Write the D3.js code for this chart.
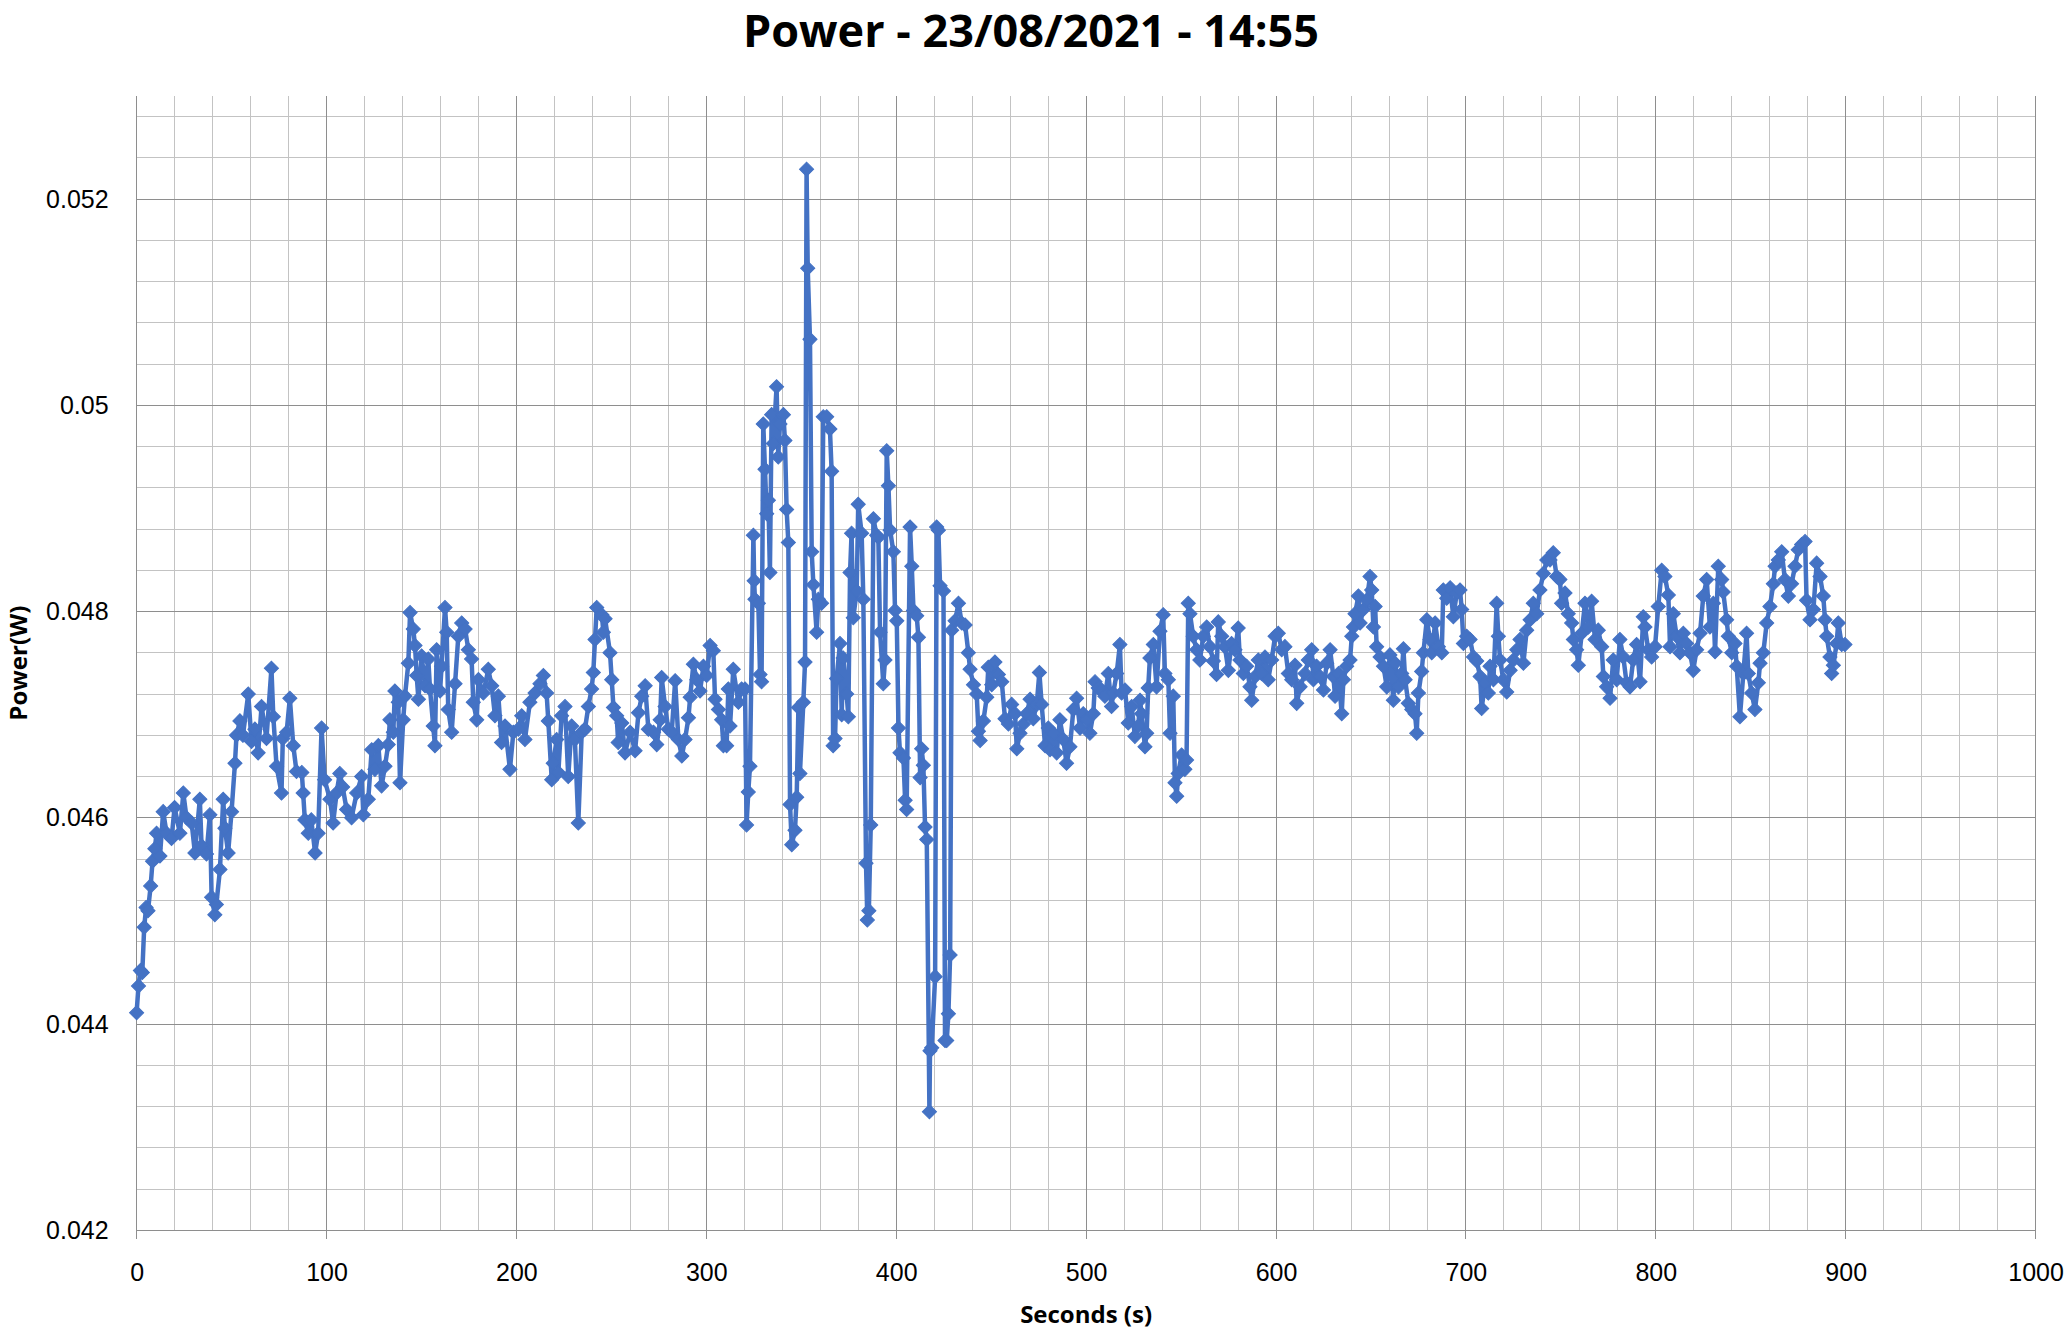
<!DOCTYPE html>
<meta charset="utf-8">
<style>
 body { margin: 0; background: #fff; }
 svg { font-family: "Open Sans", "Noto Sans", sans-serif; background: #fff; }
 .minor line { stroke: #c3c3c3; stroke-width: 1px; shape-rendering: crispEdges; }
 .major line { stroke: #8e8e8e; stroke-width: 1px; shape-rendering: crispEdges; }
 .axis path { display: none; }
 .axis line { stroke: #8e8e8e; shape-rendering: crispEdges; }
 .axis text { fill: #000; font-size: 25px; }
</style>
<body>
<svg width="2069" height="1335"></svg>
</body>
<script src="https://cdn.jsdelivr.net/npm/d3@7"></script>
<script>

 // sample times (s)
 var seconds = [
  0, 1, 2, 3, 4, 5, 6, 7.4, 8.4, 9.6,
  10.5, 12.3, 14, 15.8, 18.4, 20, 22.8, 24.6, 26.3, 29,
  30.7, 33.3, 34.2, 36.8, 38.6, 39.5, 41.2, 42, 43.9, 45.6,
  46.5, 48.2, 50, 51.8, 52.6, 54.4, 56, 58.8, 60.5, 62.3,
  64, 65.8, 68.4, 71, 72, 73.7, 76.3, 77, 79, 80.7,
  82.5, 84.2, 87, 87.7, 88.6, 90.4, 92, 94, 95.6, 97.4,
  99, 101.8, 103.5, 105.3, 107, 108.5,
  110.6, 113.2, 115.9, 118.5, 119.4, 122, 123.8, 125.5, 127.3, 129,
  130.8, 132.5, 133.4, 135.2, 136, 137.8, 138.7, 140.4, 141.3, 143.1,
  144, 145.7, 146.6, 147.5, 148.4, 150.1, 151.9, 153.6, 154.5, 156.2,
  157.1, 158, 159.8, 160.6, 162.4, 163.3, 164.1, 165.9, 167.7, 169.4,
  171.2, 173, 174.7, 176.4, 177.3, 179.1, 180, 182.6, 185.2, 187,
  188.7, 190.5, 192.2, 194, 196.6, 198.4, 201, 202.8, 204.5, 207.1,
  209.8, 212.4, 214.2, 215.9, 216.8, 218.6, 219.4, 221.2, 222.1, 223.8,
  225.6, 227.3, 229.1, 230.8, 232.6, 234.4, 236.1, 237.9, 239.6, 240.5,
  241.4, 242.3,
  245, 245.8, 246.7, 249.3, 250.2, 251.1, 252.8, 253.6, 255.5, 257.2,
  259.9, 262.5, 264.3, 266, 267.8, 269.5, 272.2, 273.9, 275.7, 276.5,
  278.3, 280, 281.8, 283.6, 285.3, 287.1, 288.8, 290.6, 291.5, 293.2,
  295, 296.7, 298.5, 300.2, 302, 303.7, 304.6, 306.4, 308.1, 309,
  310.7, 311.6, 312.5, 314.2, 316.9, 318.6, 320.4, 321.2, 322.1, 323,
  324.8, 325.2, 325.6, 327.4, 328.3, 329.1, 330, 330.9, 331.8, 332.7,
  333.5, 334.4, 335.3, 337, 337.9, 338.8, 340.6, 341.4, 342.3, 343.2,
  344.1, 345, 346.7, 347.6, 348.5, 349.3, 351.1, 352, 352.8, 353.4,
  354.6, 355.5, 356.4, 358.1, 359, 360.7, 361.6, 363.4, 365.1, 366,
  366.8, 367.8, 368.6, 370.4, 371.3, 372.1, 373.9, 374.8, 375.7, 376.5,
  377.4, 379.2, 380, 381.8, 382.7, 384.1, 384.8, 385.6, 386.6, 388,
  389.7, 390.6, 391.5, 393.2, 394.1, 395, 395.9, 396.8, 398.5, 399.4,
  400.3, 401.2, 402, 403.8, 404.7, 405.5, 407.3, 408.2, 409.1, 410.8,
  411.7, 412.6, 413.4, 414.3, 415.2, 416.1, 417.5, 417.8, 418.7, 420.5,
  421.3, 422.2, 423.1, 424.9, 425.7, 426.6, 427.5, 428.4, 429.2, 431,
  432.8, 434.5, 436.3, 438, 438.9, 440.7, 442.4, 443.3, 444.2, 445.9,
  447.7, 448.5, 450.3, 452, 453.8, 455.6, 457.3, 459.1, 460.8, 462.6,
  463.5, 465.2, 467, 468.7, 470.5, 472.2, 474, 475.4, 476.6, 478.4,
  480.1,
  481, 482.7, 484.5, 486.2, 488, 489.7, 491.5, 493.3, 495, 496.8,
  498.5, 500.3, 502, 503.8, 504.7, 506.4, 508.2, 509.9, 511.7, 513.4,
  514.3, 516.1, 517.8, 518.7, 520.5, 522.2, 524, 525.7, 527.5, 528.4,
  529.2, 531, 531.9, 532.7, 533.6, 535.4, 537.1, 538.9, 540.6, 541.5,
  543.3, 544.2, 545.9, 546.8, 547.7, 548.5, 550.3, 552, 552.9, 553.8,
  554.7, 556.4, 558.2, 559.9, 561.7, 563.5, 565.2, 567, 568.7, 569.6,
  571.4, 573.1, 574.9, 576.6, 578.4, 580.1, 581, 582.8, 584.5, 586.3,
  587.2, 589, 590.7, 592.4, 594.2, 595.9, 597.7, 599.5, 601.2, 603,
  604.7, 606.5,
  608.3, 610, 610.9, 612.7, 615.3, 617, 618.8, 619.7, 621.4, 623.2,
  625, 626.7, 628.5, 630.2, 631.1, 632.9, 634.6, 635.5, 637.2, 639,
  639.9, 640.8, 641.6, 643.4, 644.3, 646, 647.8, 649.5, 650.4, 651.3,
  652.2, 653, 654.8, 656.6, 658.3, 660, 661.8, 662.7, 664.5, 666.2,
  667.1, 668, 669.7, 671.5, 673.2, 674.1, 675, 676.7, 677.6, 679.4,
  681.1, 682, 683.8, 685.5, 687.3, 688.1, 689.9, 691.7, 693.4, 695.2,
  696.9, 697.8, 698.7, 700.4, 702.2, 704, 705.7, 707.5, 708.3, 710.1,
  711.8, 712.7, 714.5, 716.2, 717.1, 718, 719.7, 721.5, 723.3, 725,
  726.8, 728.5, 730.3, 732, 733.8, 735.5, 737.3, 739, 740.8, 742.6,
  744.3, 746, 747.8, 749.5, 750.4, 752.2, 753.9, 755.7, 756.6, 758.3,
  759.2, 761, 762.7, 764.5, 766.2, 768, 769.7, 771.5, 772.4, 774.1,
  775.9, 777.6, 779.4, 781.1, 782.9, 784.6, 786.4, 788.1, 789.9, 791.7,
  793.4, 794.3, 796, 797.8, 799.6, 801.3, 803.1, 804.8, 806.6, 807.5,
  809.2, 811, 812.7, 814.5, 816.2, 818, 819.7, 821.5, 823.3, 825,
  826.8, 828.5, 830.3, 831.2, 832.9, 834.7, 835.5, 837.3, 838.2, 840,
  841.7, 842.6, 844.3, 846.1, 847.8, 848.7, 850.5, 852.2, 854, 854.9,
  856.6, 858.4, 860.1, 861.9, 862.8, 864.5, 866.3, 868, 869.8, 871.5,
  873.3, 875, 876.8, 878.6, 879.4, 881.2, 883, 884.7, 886.5, 888.2,
  889.1, 890, 891.7, 892.6, 893.5, 895.2, 896.1, 897.9, 899.6
 ];

 // power in mW, same order as seconds
 var powerMW = [
  44.11, 44.37, 44.52, 44.5, 44.94, 45.13, 45.1, 45.34, 45.58, 45.7,
  45.85, 45.63, 46.06, 45.85, 45.8, 46.1, 45.85, 46.24, 46.0, 45.95,
  45.66, 46.18, 45.73, 45.65, 46.03, 45.23, 45.06, 45.16, 45.5, 46.18,
  45.9, 45.66, 46.06, 46.53, 46.8, 46.94, 46.8, 47.2, 46.74, 46.86,
  46.63, 47.08, 46.77, 47.45, 46.98, 46.5, 46.24, 46.77, 46.83, 47.16,
  46.7, 46.45, 46.44, 46.24, 45.98, 45.85, 45.98, 45.66, 45.85, 46.87,
  46.37, 46.18, 45.95, 46.24, 46.43, 46.3,
  46.08, 46.0, 46.24, 46.4, 46.03, 46.18, 46.66, 46.47, 46.7, 46.31,
  46.5, 46.71, 46.95, 46.83, 47.23, 47.12, 46.34, 46.95, 47.18, 47.5,
  47.99, 47.83, 47.67, 47.38, 47.15, 47.57, 47.28, 47.54, 47.25, 46.89,
  46.7, 47.63, 47.23, 47.47, 48.04, 47.8, 47.05, 46.83, 47.3, 47.76,
  47.89, 47.83, 47.63, 47.54, 47.12, 46.95, 47.34, 47.21, 47.44, 47.28,
  46.99, 47.18, 46.73, 46.89, 46.47, 46.83, 46.86, 46.99, 46.76, 47.12,
  47.21, 47.3, 47.38, 47.21, 46.94, 46.37, 46.53, 46.76, 46.44, 46.99,
  47.08, 46.4, 46.89, 46.76, 45.95, 46.83, 46.86, 47.08, 47.25, 47.41,
  47.73, 48.04,
  47.97, 47.8, 47.93, 47.6, 47.34, 47.07, 46.99, 46.73, 46.92, 46.63,
  46.83, 46.65, 47.02, 47.18, 47.28, 46.86, 46.83, 46.71, 46.95, 47.36,
  47.08, 46.86, 46.83, 47.33, 46.76, 46.6, 46.76, 46.97, 47.17, 47.49,
  47.34, 47.23, 47.47, 47.38, 47.67, 47.62, 47.15, 47.05, 46.95, 46.7,
  46.7, 47.25, 46.89, 47.44, 47.12, 47.25, 47.25, 45.93, 46.25, 46.5,
  48.74, 48.3, 48.12, 48.08, 47.39, 47.32, 49.82, 49.38, 48.95, 49.08,
  48.38, 49.91, 49.63, 50.18, 49.5, 49.82, 49.91, 49.66, 48.99, 48.67,
  46.13, 45.74, 45.88, 46.2, 47.07, 46.43, 47.12, 47.51, 52.29, 51.33,
  50.64, 48.58, 48.26, 47.8, 48.12, 48.08, 49.89, 49.89, 49.77, 49.36,
  46.7, 46.77, 47.35, 47.69, 47.0, 47.55, 47.2, 46.98, 48.38, 48.76,
  47.94, 48.2, 49.04, 48.76, 48.12, 45.56, 45.01, 45.1, 45.93, 48.9,
  48.74, 48.72, 47.8, 47.3, 47.53, 49.56, 49.22, 48.79, 48.58, 48.01,
  47.91, 46.87, 46.63, 46.58, 46.17, 46.08, 48.82, 48.44, 48.01, 47.96,
  47.75, 46.39, 46.67, 46.51, 45.91, 45.79, 43.15, 43.74, 43.77, 44.46,
  48.82, 48.79, 48.25, 48.2, 43.84, 43.84, 44.1, 44.67, 47.82, 47.91,
  48.08, 47.89, 47.87, 47.6, 47.44, 47.29, 47.2, 46.84, 46.75, 46.94,
  47.17, 47.46, 47.29, 47.51, 47.39, 47.32, 46.96, 46.91, 47.1, 47.01,
  46.67, 46.82, 46.91, 47.01, 47.15, 46.96, 47.1, 47.41, 47.1, 46.7,
  46.87,
  46.66, 46.82, 46.63, 46.95, 46.76, 46.53, 46.69, 47.05, 47.16, 46.87,
  47.01, 46.95, 46.82, 47.01, 47.32, 47.26, 47.24, 47.18, 47.4, 47.08,
  47.21, 47.4, 47.68, 47.21, 47.24, 46.92, 47.08, 46.79, 46.89, 47.14,
  47.01, 46.69, 46.82, 47.26, 47.55, 47.68, 47.27, 47.81, 47.97, 47.4,
  47.34, 46.82, 47.18, 46.34, 46.21, 46.43, 46.61, 46.47, 46.56, 48.08,
  47.98, 47.76, 47.63, 47.53, 47.76, 47.85, 47.66, 47.52, 47.39, 47.9,
  47.76, 47.66, 47.43, 47.69, 47.63, 47.84, 47.53, 47.4, 47.47, 47.27,
  47.14, 47.37, 47.53, 47.4, 47.56, 47.34, 47.53, 47.76, 47.79, 47.63,
  47.66, 47.4,
  47.34, 47.48, 47.11, 47.27, 47.4, 47.53, 47.63, 47.34, 47.47, 47.37,
  47.24, 47.5, 47.63, 47.37, 47.18, 47.4, 47.01, 47.34, 47.47, 47.53,
  47.76, 47.85, 47.98, 48.15, 47.89, 48.02, 48.11, 48.34, 48.21, 47.85,
  48.05, 47.66, 47.56, 47.47, 47.27, 47.58, 47.14, 47.5, 47.27, 47.4,
  47.64, 47.34, 47.11, 47.05, 47.01, 46.82, 47.21, 47.42, 47.6, 47.92,
  47.73, 47.6, 47.89, 47.66, 47.6, 48.21, 48.13, 48.23, 47.95, 48.18,
  48.21, 48.02, 47.69, 47.76, 47.73, 47.56, 47.52, 47.37, 47.06, 47.31,
  47.21, 47.47, 47.34, 48.08, 47.76, 47.53, 47.34, 47.22, 47.43, 47.53,
  47.63, 47.73, 47.5, 47.82, 47.92, 48.08, 47.98, 48.21, 48.37, 48.5,
  48.5, 48.57, 48.34, 48.31, 48.08, 48.18, 47.98, 47.89, 47.73, 47.63,
  47.48, 47.79, 48.08, 47.85, 48.1, 47.73, 47.82, 47.66, 47.37, 47.27,
  47.16, 47.53, 47.34, 47.73, 47.56, 47.31, 47.27, 47.53, 47.68, 47.32,
  47.95, 47.85, 47.63, 47.56, 47.66, 48.05, 48.4, 48.34, 48.16, 47.66,
  47.98, 47.76, 47.6, 47.79, 47.69, 47.6, 47.43, 47.63, 47.79, 48.15,
  48.31, 47.85, 48.08, 47.61, 48.44, 48.31, 48.19, 47.92, 47.76, 47.6,
  47.69, 47.47, 46.98, 47.4, 47.79, 47.4, 47.21, 47.05, 47.31, 47.5,
  47.6, 47.89, 48.05, 48.27, 48.44, 48.5, 48.58, 48.31, 48.15, 48.27,
  48.44, 48.6, 48.65, 48.68, 48.11, 47.92, 48.02, 48.47, 48.34, 48.15,
  47.92, 47.76, 47.56, 47.4, 47.48, 47.69, 47.89, 47.68, 47.68
 ];

 var xTicks = [0, 100, 200, 300, 400, 500, 600, 700, 800, 900, 1000];
 var yTicks = [0.042, 0.044, 0.046, 0.048, 0.05, 0.052];
 var yTickLabels = ["0.042", "0.044", "0.046", "0.048", "0.05", "0.052"];

 if (seconds.length != powerMW.length) console.warn("length mismatch", seconds.length, powerMW.length);

 var data = seconds.map(function(t, i) { return { t: t, p: powerMW[i] / 1000 }; });

 var svg = d3.select("svg"),
     plotLeft = 136.6, plotRight = 2035.6, plotTop = 96, plotBottom = 1230.3;

 var x = d3.scaleLinear().domain([0, 1000]).range([plotLeft, plotRight]);
 var y = d3.scaleLinear().domain([0.042, 0.053]).range([plotBottom, plotTop]);

 var minorX = d3.range(0, 1001, 20),
     minorY = d3.range(0, 28).map(function(i) { return 0.042 + i * 0.0004; });

 // minor grid
 svg.append("g").attr("class", "minor")
    .selectAll("line").data(minorX).enter().append("line")
    .attr("x1", x).attr("x2", x).attr("y1", plotTop).attr("y2", plotBottom);
 svg.append("g").attr("class", "minor")
    .selectAll("line").data(minorY).enter().append("line")
    .attr("x1", plotLeft).attr("x2", plotRight).attr("y1", y).attr("y2", y);

 // major grid (x ones poke below the axis as tick marks)
 svg.append("g").attr("class", "major")
    .selectAll("line").data(xTicks).enter().append("line")
    .attr("x1", x).attr("x2", x).attr("y1", plotTop).attr("y2", plotBottom + 9);
 svg.append("g").attr("class", "major")
    .selectAll("line").data(yTicks).enter().append("line")
    .attr("x1", plotLeft).attr("x2", plotRight).attr("y1", y).attr("y2", y);

 // axis labels
 svg.append("g").attr("class", "axis")
    .attr("transform", "translate(0," + plotBottom + ")")
    .call(d3.axisBottom(x).tickValues(xTicks).tickSize(0).tickPadding(33)
          .tickFormat(function(d) { return String(d); }));
 svg.append("g").attr("class", "axis")
    .attr("transform", "translate(" + plotLeft + ",0)")
    .call(d3.axisLeft(y).tickValues(yTicks).tickSize(0).tickPadding(28)
          .tickFormat(function(d, i) { return yTickLabels[i]; }));

 // series
 var line = d3.line().x(function(d) { return x(d.t); }).y(function(d) { return y(d.p); });
 svg.append("path").datum(data)
    .attr("d", line)
    .attr("fill", "none")
    .attr("stroke", "#4472c4")
    .attr("stroke-width", 4.5)
    .attr("stroke-linejoin", "round");

 var diamond = d3.symbol().type(d3.symbolSquare).size(100);
 svg.append("g").selectAll("path").data(data).enter().append("path")
    .attr("d", diamond)
    .attr("transform", function(d) { return "translate(" + x(d.t) + "," + y(d.p) + ") rotate(45)"; })
    .attr("fill", "#4472c4")
    .attr("stroke", "#4472c4")
    .attr("stroke-width", 1);

 // titles
 svg.append("text")
    .attr("x", 1031).attr("y", 47)
    .attr("text-anchor", "middle")
    .style("font-size", "45px").style("font-weight", "bold")
    .text("Power - 23/08/2021 - 14:55");
 svg.append("text")
    .attr("x", (plotLeft + plotRight) / 2).attr("y", 1323)
    .attr("text-anchor", "middle")
    .style("font-size", "24px").style("font-weight", "bold")
    .text("Seconds (s)");
 svg.append("text")
    .attr("transform", "translate(27," + ((plotTop + plotBottom) / 2) + ") rotate(-90)")
    .attr("text-anchor", "middle")
    .style("font-size", "24px").style("font-weight", "bold")
    .text("Power(W)");

</script>
</html>
